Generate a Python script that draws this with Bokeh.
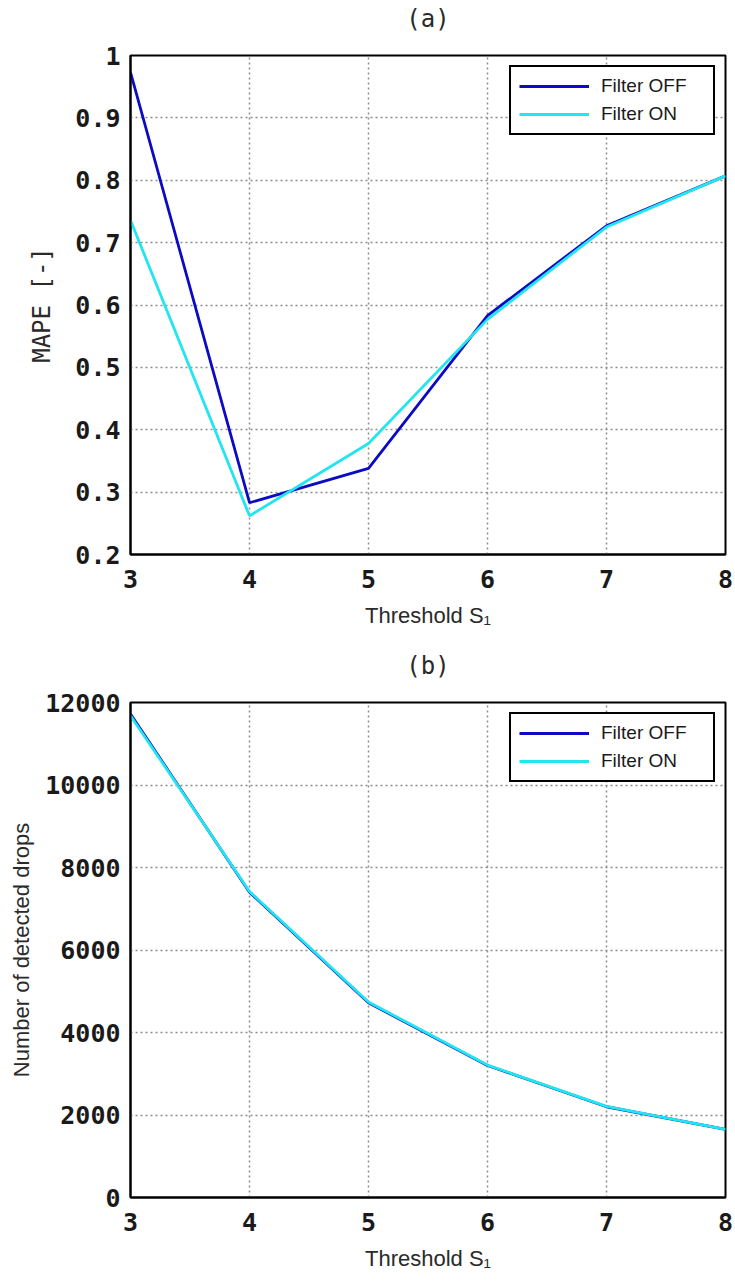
from bokeh.plotting import figure
from bokeh.layouts import column
from bokeh.models import FixedTicker, Legend, LegendItem, Title
from bokeh.embed import file_html
from bokeh.resources import INLINE

# ---------------- data ----------------
thresholds = [3, 4, 5, 6, 7, 8]
mape_filter_off = [0.973, 0.283, 0.338, 0.583, 0.727, 0.807]
mape_filter_on = [0.736, 0.262, 0.378, 0.577, 0.725, 0.807]
drops_filter_off = [11720, 7400, 4720, 3200, 2200, 1650]
drops_filter_on = [11680, 7420, 4740, 3210, 2210, 1650]

x_ticks = [3, 4, 5, 6, 7, 8]
mape_ticks = [0.2, 0.3, 0.4, 0.5, 0.6, 0.7, 0.8, 0.9, 1.0]
mape_tick_labels = ["0.2", "0.3", "0.4", "0.5", "0.6", "0.7", "0.8", "0.9", "1"]
drops_ticks = [0, 2000, 4000, 6000, 8000, 10000, 12000]
drops_tick_labels = ["0", "2000", "4000", "6000", "8000", "10000", "12000"]

series_names = ["Filter OFF", "Filter ON"]
series_colors = ["#0b0bc6", "#22e6ef"]
panel_titles = ["(a)", "(b)"]

MONO = "DejaVu Sans Mono"
SANS = "Liberation Sans"


def style(p, title, ylabel, ylabel_font, ylabel_size, ylabel_standoff, yticks, ylabels):
    p.xaxis.ticker = FixedTicker(ticks=x_ticks)
    p.yaxis.ticker = FixedTicker(ticks=yticks)
    p.yaxis.major_label_overrides = {t: l for t, l in zip(yticks, ylabels)}
    p.xaxis.major_label_overrides = {t: str(t) for t in x_ticks}
    for ax in (p.xaxis[0], p.yaxis[0]):
        ax.axis_line_color = "black"
        ax.axis_line_width = 2
        ax.major_tick_in = 0
        ax.major_tick_out = 0
        ax.minor_tick_in = 0
        ax.minor_tick_out = 0
        ax.major_label_text_font = MONO
        ax.major_label_text_font_style = "bold"
        ax.major_label_text_font_size = "25px"
        ax.major_label_text_color = "#1a1a1a"
        ax.axis_label_text_font_style = "normal"
        ax.axis_label_text_color = "#2a2a2a"
    p.xaxis.major_label_standoff = 15
    p.yaxis.major_label_standoff = 10
    p.xaxis.axis_label = "Threshold S\u2081"
    p.xaxis.axis_label_text_font = SANS
    p.xaxis.axis_label_text_font_size = "22px"
    p.xaxis.axis_label_standoff = 12
    p.yaxis.axis_label = ylabel
    p.yaxis.axis_label_text_font = ylabel_font
    p.yaxis.axis_label_text_font_size = ylabel_size
    p.yaxis.axis_label_standoff = ylabel_standoff
    for g in (p.xgrid[0], p.ygrid[0]):
        g.grid_line_color = "#8c8c8c"
        g.grid_line_width = 1.5
        g.grid_line_dash = "2 3"
    p.outline_line_color = "black"
    p.outline_line_width = 2
    p.outline_line_alpha = 1.0
    p.background_fill_color = "white"
    p.border_fill_color = "white"
    # spacer between frame and panel title, then the title itself
    p.add_layout(Title(text=" ", text_font=MONO, text_font_size="16px", standoff=0), "above")
    p.add_layout(Title(text=title, text_font=MONO, text_font_size="24px",
                       text_font_style="normal", text_color="#2a2a2a",
                       align="center", standoff=4), "above")


def add_lines(p, ys):
    items = []
    for name, y, c in zip(series_names, ys, series_colors):
        r = p.line(thresholds, y, line_color=c, line_width=2.8)
        items.append(LegendItem(label=name, renderers=[r]))
    leg = Legend(items=items, location="top_right")
    leg.margin = 10
    leg.padding = 8
    leg.spacing = 6
    leg.label_height = 22
    leg.glyph_height = 22
    leg.glyph_width = 70
    leg.label_standoff = 12
    leg.label_width = 104
    leg.label_text_font = SANS
    leg.label_text_font_size = "19px"
    leg.label_text_color = "#1a1a1a"
    leg.border_line_color = "black"
    leg.border_line_alpha = 1.0
    leg.border_line_width = 2
    leg.background_fill_color = "white"
    leg.background_fill_alpha = 1.0
    p.add_layout(leg, "center")


p1 = figure(width=733, height=640, x_range=(3, 8), y_range=(0.2, 1.0),
            output_backend="svg", toolbar_location=None, title_location=None,
            min_border_left=130, min_border_right=8,
            min_border_top=55, min_border_bottom=86)
add_lines(p1, [mape_filter_off, mape_filter_on])
style(p1, panel_titles[0], "MAPE [-]", MONO, "24px", 16, mape_ticks, mape_tick_labels)

p2 = figure(width=733, height=633, x_range=(3, 8), y_range=(0, 12000),
            output_backend="svg", toolbar_location=None, title_location=None,
            min_border_left=130, min_border_right=8,
            min_border_top=62, min_border_bottom=72)
add_lines(p2, [drops_filter_off, drops_filter_on])
style(p2, panel_titles[1], "Number of detected drops", SANS, "22px", 8, drops_ticks, drops_tick_labels)

layout = column(p1, p2, spacing=0)
open("out.html", "w").write(file_html(layout, INLINE))
